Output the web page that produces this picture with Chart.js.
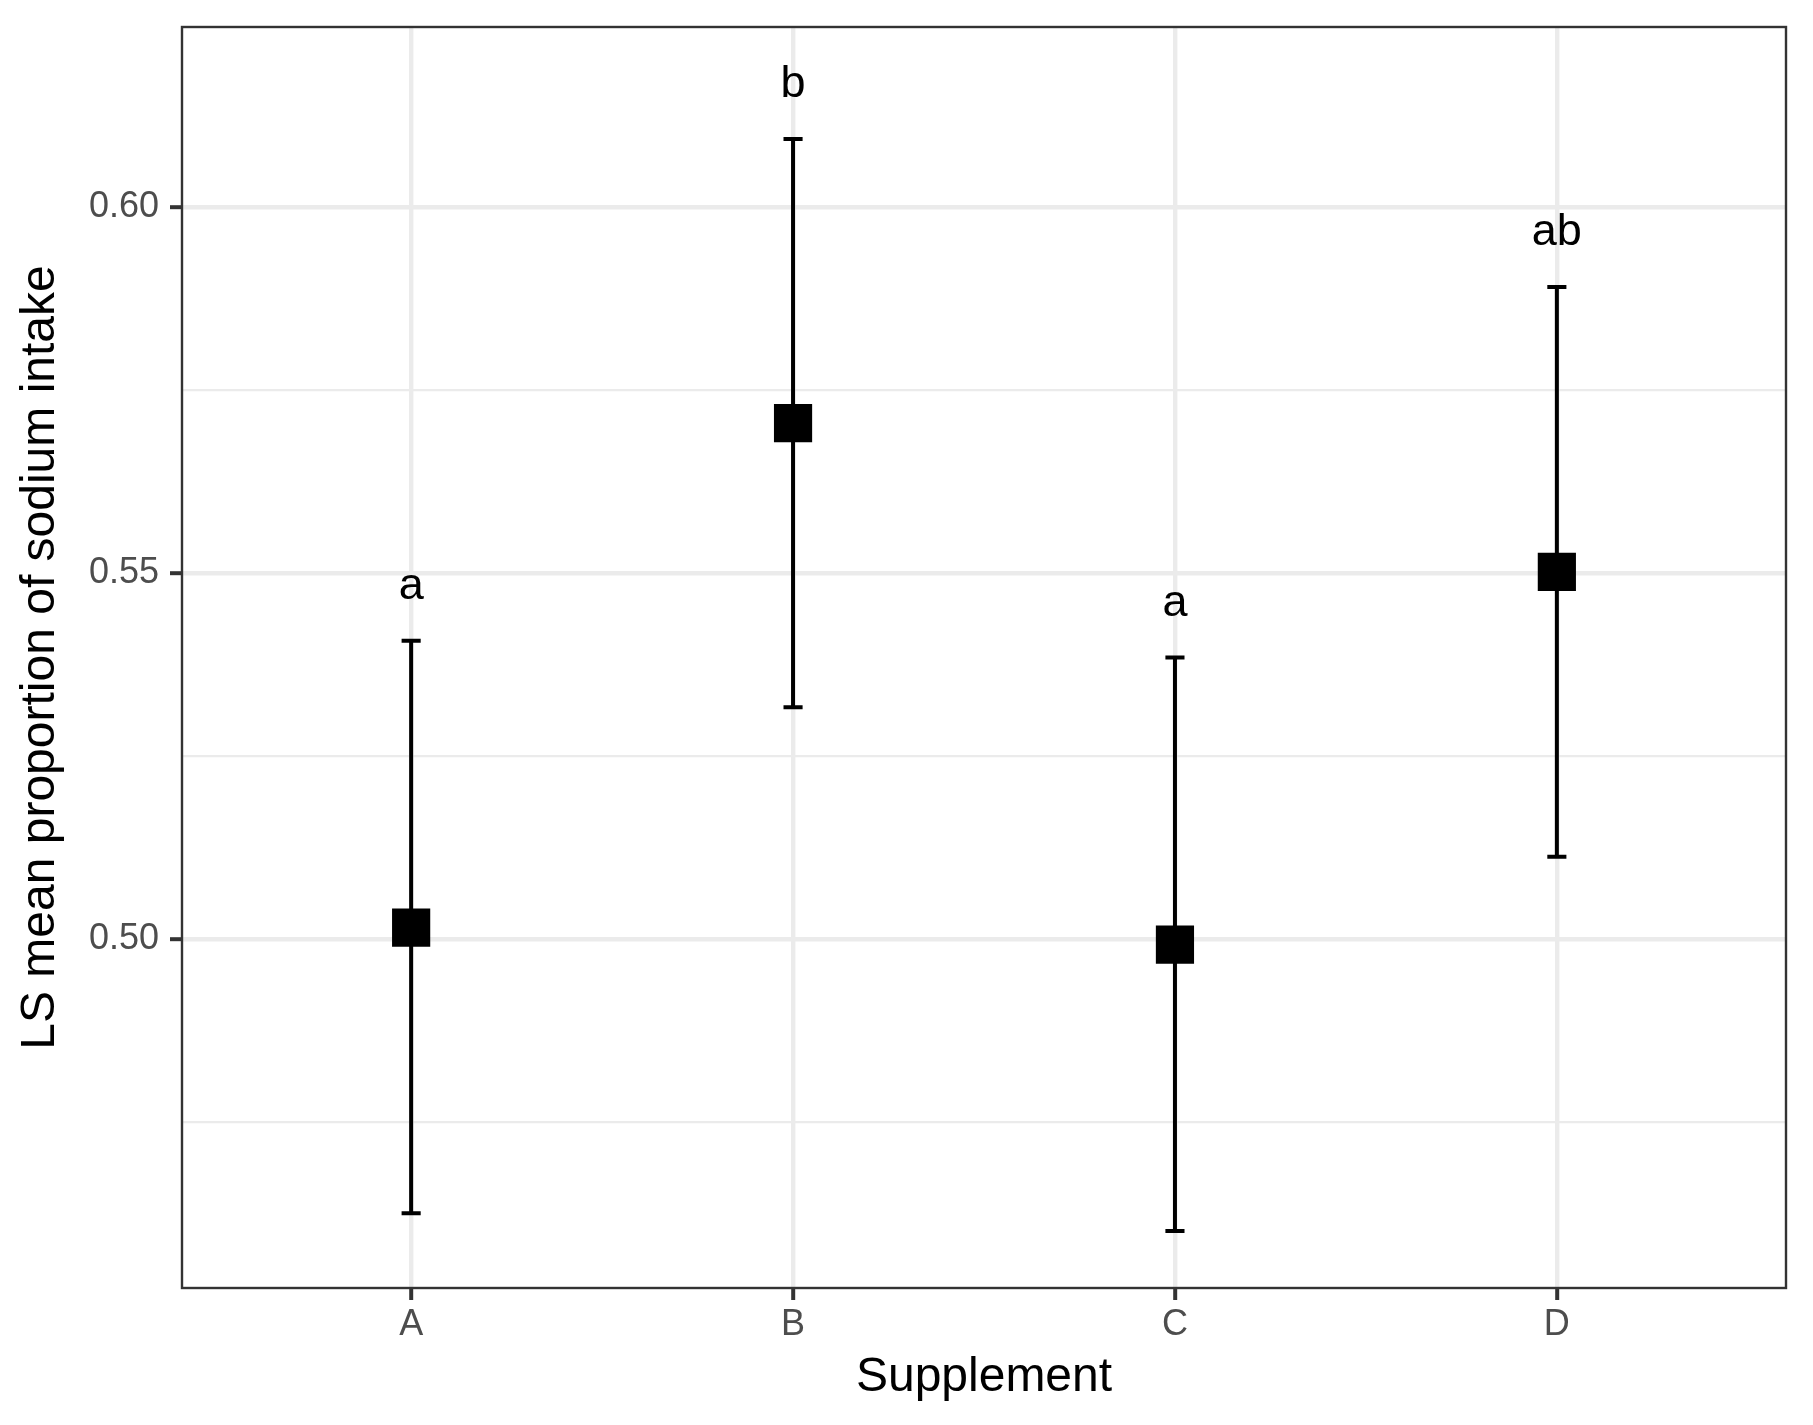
<!DOCTYPE html>
<html>
<head>
<meta charset="utf-8">
<title>LS mean proportion of sodium intake</title>
<script src="https://cdn.jsdelivr.net/npm/chart.js@4.4.1/dist/chart.umd.min.js"></script>
<style>
  html, body { margin: 0; padding: 0; background: #ffffff; }
  #wrap { width: 1813px; height: 1425px; }
</style>
</head>
<body>
<div id="wrap"><canvas id="lsMeanChart" width="1813" height="1425"></canvas></div>
<script>
// values
const supplements = ["A", "B", "C", "D"];
const lsMeans = [0.5016, 0.5705, 0.4993, 0.5502];
const lowerCL = [0.4626, 0.5317, 0.4602, 0.5113];
const upperCL = [0.5408, 0.6093, 0.5385, 0.5891];
const groupLetters = ["a", "b", "a", "ab"];
const yTicks = [0.475, 0.5, 0.525, 0.55, 0.575, 0.6];
const yMajorTicks = [0.5, 0.55, 0.6];

const capWidth = 0.05; // errorbar width, in category units
const letterNudge = 0.0057; // letter baseline above the upper limit

Chart.defaults.font.family = '"Liberation Sans", Arial, Helvetica, sans-serif';

function isMajor(v) {
  return yMajorTicks.some((m) => Math.abs(m - v) < 1e-9);
}

// error bars + group letters, placed through the chart scales
const errorBarPlugin = {
  id: "errorBars",
  beforeDatasetsDraw(chart) {
    const { ctx, scales } = chart;
    const x = scales.x;
    const y = scales.y;
    ctx.save();
    ctx.strokeStyle = "#000000";
    ctx.lineWidth = 4;
    ctx.lineCap = "butt";
    supplements.forEach((s, i) => {
      const px = x.getPixelForValue(i);
      const half = x.getPixelForValue(i + capWidth / 2) - px;
      const top = y.getPixelForValue(upperCL[i]);
      const bot = y.getPixelForValue(lowerCL[i]);
      ctx.beginPath();
      ctx.moveTo(px, top);
      ctx.lineTo(px, bot);
      ctx.moveTo(px - half, top);
      ctx.lineTo(px + half, top);
      ctx.moveTo(px - half, bot);
      ctx.lineTo(px + half, bot);
      ctx.stroke();
    });
    ctx.restore();
  },
  afterDatasetsDraw(chart) {
    const { ctx, scales } = chart;
    ctx.save();
    ctx.fillStyle = "#000000";
    ctx.font = '45px "Liberation Sans", Arial, sans-serif';
    ctx.textAlign = "center";
    ctx.textBaseline = "alphabetic";
    groupLetters.forEach((letter, i) => {
      ctx.fillText(
        letter,
        scales.x.getPixelForValue(i),
        scales.y.getPixelForValue(upperCL[i] + letterNudge)
      );
    });
    ctx.restore();
  },
  afterDraw(chart) {
    // panel border (theme_bw style)
    const { ctx, chartArea } = chart;
    ctx.save();
    ctx.strokeStyle = "#333333";
    ctx.lineWidth = 2.4;
    ctx.strokeRect(
      chartArea.left,
      chartArea.top,
      chartArea.right - chartArea.left,
      chartArea.bottom - chartArea.top
    );
    ctx.restore();
  },
};

const ctx = document.getElementById("lsMeanChart").getContext("2d");

new Chart(ctx, {
  type: "scatter",
  data: {
    datasets: [
      {
        label: "LS mean",
        data: supplements.map((s, i) => ({ x: i, y: lsMeans[i] })),
        pointStyle: "rect",
        pointRadius: 27,
        pointHoverRadius: 27,
        backgroundColor: "#000000",
        borderColor: "#000000",
        borderWidth: 0,
      },
    ],
  },
  options: {
    responsive: false,
    devicePixelRatio: 1,
    animation: false,
    layout: {
      padding: { left: 0, top: 23, right: 20, bottom: 0 },
    },
    plugins: {
      legend: { display: false },
      tooltip: { enabled: false },
    },
    scales: {
      x: {
        type: "linear",
        min: -0.6,
        max: supplements.length - 1 + 0.6,
        afterBuildTicks: (scale) => {
          scale.ticks = supplements.map((s, i) => ({ value: i }));
        },
        afterFit: (scale) => {
          scale.height = 137;
          scale.paddingLeft = 0;
          scale.paddingRight = 0;
        },
        border: { display: false },
        grid: {
          color: "#EBEBEB",
          lineWidth: 4.4,
          drawTicks: true,
          tickLength: 12,
          tickColor: "#333333",
          tickWidth: 4,
        },
        ticks: {
          padding: 3,
          color: "#4D4D4D",
          font: { size: 36 },
          callback: (value) => supplements[value],
        },
        title: {
          display: true,
          text: "Supplement",
          color: "#000000",
          font: { size: 48 },
          padding: { top: 0, bottom: 18 },
        },
      },
      y: {
        type: "linear",
        min: 0.4524,
        max: 0.6246,
        afterBuildTicks: (scale) => {
          scale.ticks = yTicks.map((v) => ({ value: v }));
        },
        afterFit: (scale) => {
          scale.width = 182;
          scale.paddingTop = 0;
          scale.paddingBottom = 0;
        },
        border: { display: false },
        grid: {
          color: "#EBEBEB",
          lineWidth: (c) => (c.tick && isMajor(c.tick.value) ? 4.4 : 2.2),
          drawTicks: true,
          tickLength: 12,
          tickColor: (c) =>
            c.tick && isMajor(c.tick.value) ? "#333333" : "rgba(0,0,0,0)",
          tickWidth: 4,
        },
        ticks: {
          padding: 11,
          color: "#4D4D4D",
          font: { size: 36 },
          callback: (value) => (isMajor(value) ? value.toFixed(2) : ""),
        },
        title: {
          display: true,
          text: "LS mean proportion of sodium intake",
          color: "#000000",
          font: { size: 48 },
          padding: { top: 12, bottom: 0 },
        },
      },
    },
  },
  plugins: [errorBarPlugin],
});
</script>
</body>
</html>
